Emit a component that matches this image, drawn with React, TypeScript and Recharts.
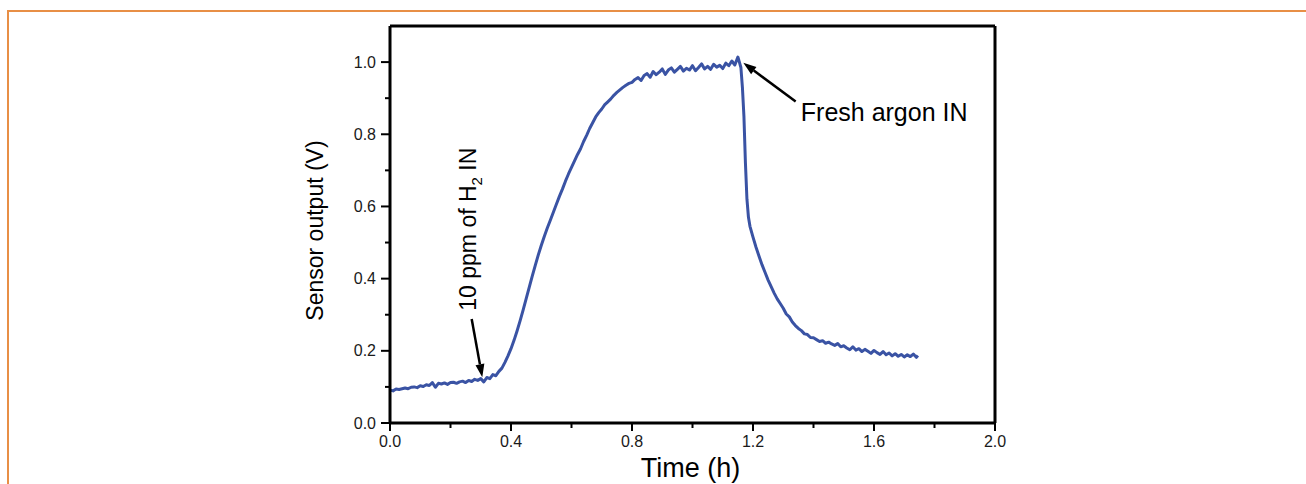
import React from 'react';
import { LineChart, Line, XAxis, YAxis, ReferenceLine, ReferenceDot } from 'recharts';

// time (h) and sensor output (V)
const timeH = [
  0.00, 0.01, 0.02, 0.03, 0.04, 0.05, 0.06, 0.07, 0.08, 0.09,
  0.10, 0.11, 0.12, 0.13, 0.14, 0.15, 0.16, 0.17, 0.18, 0.19,
  0.20, 0.21, 0.22, 0.23, 0.24, 0.25, 0.26, 0.27, 0.28, 0.29,
  0.30, 0.31, 0.32, 0.33, 0.34, 0.35, 0.36, 0.37, 0.38, 0.39,
  0.40, 0.41, 0.42, 0.43, 0.44, 0.45, 0.46, 0.47, 0.48, 0.49,
  0.50, 0.51, 0.52, 0.53, 0.54, 0.55, 0.56, 0.57, 0.58, 0.59,
  0.60, 0.61, 0.62, 0.63, 0.64, 0.65, 0.66, 0.67, 0.68, 0.69,
  0.70, 0.71, 0.72, 0.73, 0.74, 0.75, 0.76, 0.77, 0.78, 0.79,
  0.80, 0.81, 0.82, 0.83, 0.84, 0.85, 0.86, 0.87, 0.88, 0.89,
  0.90, 0.91, 0.92, 0.93, 0.94, 0.95, 0.96, 0.97, 0.98, 0.99,
  1.00, 1.01, 1.02, 1.03, 1.04, 1.05, 1.06, 1.07, 1.08, 1.09,
  1.10, 1.11, 1.12, 1.13, 1.14, 1.15, 1.155, 1.16, 1.165, 1.17,
  1.175, 1.18, 1.185, 1.19, 1.20, 1.21, 1.22, 1.23, 1.24, 1.25,
  1.26, 1.27, 1.28, 1.29, 1.30, 1.31, 1.32, 1.33, 1.34, 1.35,
  1.36, 1.37, 1.38, 1.39, 1.40, 1.41, 1.42, 1.43, 1.44, 1.45,
  1.46, 1.47, 1.48, 1.49, 1.50, 1.51, 1.52, 1.53, 1.54, 1.55,
  1.56, 1.57, 1.58, 1.59, 1.60, 1.61, 1.62, 1.63, 1.64, 1.65,
  1.66, 1.67, 1.68, 1.69, 1.70, 1.71, 1.72, 1.73, 1.74, 1.745,
];

const sensorV = [
  0.091, 0.089, 0.094, 0.093, 0.095, 0.097, 0.095, 0.099, 0.100, 0.098,
  0.103, 0.101, 0.106, 0.104, 0.112, 0.099, 0.110, 0.108, 0.111, 0.107,
  0.112, 0.113, 0.110, 0.114, 0.116, 0.112, 0.118, 0.115, 0.121, 0.118,
  0.123, 0.114, 0.126, 0.123, 0.134, 0.131, 0.143, 0.152, 0.168, 0.186,
  0.206, 0.229, 0.255, 0.283, 0.313, 0.344, 0.375, 0.406, 0.436, 0.465,
  0.492, 0.517, 0.540, 0.562, 0.584, 0.606, 0.628, 0.648, 0.670, 0.690,
  0.708, 0.726, 0.744, 0.760, 0.780, 0.797, 0.816, 0.832, 0.848, 0.860,
  0.870, 0.882, 0.890, 0.898, 0.908, 0.916, 0.923, 0.930, 0.936, 0.941,
  0.944, 0.952, 0.957, 0.949, 0.963, 0.968, 0.958, 0.974, 0.965, 0.972,
  0.981, 0.966, 0.978, 0.984, 0.972, 0.980, 0.988, 0.975, 0.983, 0.978,
  0.990, 0.976, 0.985, 0.995, 0.981, 0.988, 0.980, 0.994, 0.986, 0.991,
  0.982, 0.997, 0.990, 1.003, 0.992, 1.014, 1.000, 0.985, 0.930, 0.850,
  0.720, 0.620, 0.570, 0.545, 0.515, 0.487, 0.462, 0.438, 0.417, 0.396,
  0.378, 0.360, 0.344, 0.331, 0.318, 0.302, 0.294, 0.280, 0.270, 0.262,
  0.256, 0.247, 0.245, 0.237, 0.236, 0.231, 0.226, 0.228, 0.221, 0.224,
  0.219, 0.215, 0.220, 0.211, 0.214, 0.208, 0.203, 0.211, 0.202, 0.206,
  0.198, 0.204, 0.199, 0.193, 0.201, 0.195, 0.190, 0.198, 0.189, 0.194,
  0.186, 0.192, 0.185, 0.190, 0.183, 0.189, 0.184, 0.191, 0.182, 0.187,
];

const xTicks = [0, 0.2, 0.4, 0.6, 0.8, 1.0, 1.2, 1.4, 1.6, 1.8, 2.0];
const yTicks = [0, 0.1, 0.2, 0.3, 0.4, 0.5, 0.6, 0.7, 0.8, 0.9, 1.0];

// annotation anchors in data units
const h2Arrow = [{ x: 0.27, y: 0.288 }, { x: 0.305, y: 0.127 }];
const argonArrow = [{ x: 1.341, y: 0.891 }, { x: 1.168, y: 0.998 }];

const data = timeH.map((t, i) => ({ t, v: sensorV[i] }));

const FONT = '"Liberation Sans", Arial, sans-serif';
const LINE_COLOR = '#3a53a4';

const XTick = ({ x, y, payload }: any) => {
  const major = Math.round(payload.value * 10) % 4 === 0;
  return (
    <g>
      <line x1={x} x2={x} y1={y} y2={y + (major ? 8 : 5)} stroke="#000" strokeWidth={2} />
      {major && (
        <text x={x} y={y + 24} textAnchor="middle" fontSize={16} fontFamily={FONT} fill="#1a1a1a">
          {payload.value.toFixed(1)}
        </text>
      )}
    </g>
  );
};

const YTick = ({ x, y, payload }: any) => {
  const major = Math.round(payload.value * 10) % 2 === 0;
  return (
    <g>
      <line x1={x} x2={x - (major ? 9 : 5)} y1={y} y2={y} stroke="#000" strokeWidth={2} />
      {major && (
        <text x={x - 14} y={y + 5.5} textAnchor="end" fontSize={16} fontFamily={FONT} fill="#1a1a1a">
          {payload.value.toFixed(1)}
        </text>
      )}
    </g>
  );
};

const Arrow = ({ x1, y1, x2, y2 }: any) => {
  const ang = Math.atan2(y2 - y1, x2 - x1);
  const len = 13;
  const w = 4.5;
  const bx = x2 - len * Math.cos(ang);
  const by = y2 - len * Math.sin(ang);
  const px = -Math.sin(ang) * w;
  const py = Math.cos(ang) * w;
  return (
    <g>
      <line x1={x1} y1={y1} x2={bx} y2={by} stroke="#000" strokeWidth={2.5} />
      <polygon points={`${x2},${y2} ${bx + px},${by + py} ${bx - px},${by - py}`} fill="#000" />
    </g>
  );
};

const H2Label = ({ cx, cy }: any) => (
  <text
    x={cx}
    y={cy}
    transform={`rotate(-90, ${cx}, ${cy})`}
    textAnchor="middle"
    fontSize={23}
    fontFamily={FONT}
    fill="#000"
  >
    10 ppm of H<tspan dy={6} fontSize={15}>2</tspan>
    <tspan dy={-6}> IN</tspan>
  </text>
);

const ArgonLabel = ({ cx, cy }: any) => (
  <text x={cx} y={cy} fontSize={25} fontFamily={FONT} fill="#000">
    Fresh argon IN
  </text>
);

const XTitle = ({ viewBox }: any) => (
  <text
    x={viewBox.x + viewBox.width / 2 - 2}
    y={viewBox.y + 54}
    textAnchor="middle"
    fontSize={27}
    fontFamily={FONT}
    fill="#000"
  >
    Time (h)
  </text>
);

const YTitle = ({ viewBox }: any) => {
  const cx = viewBox.x + viewBox.width - 67;
  const cy = viewBox.y + viewBox.height / 2 + 6;
  return (
    <text
      x={cx}
      y={cy}
      transform={`rotate(-90, ${cx}, ${cy})`}
      textAnchor="middle"
      fontSize={23}
      fontFamily={FONT}
      fill="#000"
    >
      Sensor output (V)
    </text>
  );
};

const App: React.FC = () => {
  return (
    <div style={{ position: 'absolute', left: 0, top: 0, width: 1306, height: 484, background: '#fff' }}>
      <div
        style={{
          position: 'absolute',
          left: 7,
          top: 10,
          width: 1306,
          height: 484,
          borderTop: '2px solid #e88f46',
          borderLeft: '2px solid #e88f46',
        }}
      />
      <div style={{ position: 'absolute', left: 0, top: 0 }}>
        <LineChart width={1306} height={484} data={data} margin={{ top: 26, right: 311, bottom: 31, left: 330 }}>
          <XAxis
            dataKey="t"
            type="number"
            domain={[0, 2]}
            ticks={xTicks}
            interval={0}
            height={30}
            tickSize={0}
            tickMargin={0}
            tickLine={false}
            axisLine={{ stroke: '#000', strokeWidth: 3 }}
            tick={<XTick />}
            label={<XTitle />}
          />
          <YAxis
            type="number"
            domain={[0, 1.1]}
            ticks={yTicks}
            interval={0}
            width={60}
            tickSize={0}
            tickMargin={0}
            tickLine={false}
            allowDataOverflow
            axisLine={{ stroke: '#000', strokeWidth: 3 }}
            tick={<YTick />}
            label={<YTitle />}
          />
          <ReferenceLine y={1.1} stroke="#000" strokeWidth={3} />
          <ReferenceLine x={2} stroke="#000" strokeWidth={3} />
          <Line
            dataKey="v"
            type="linear"
            stroke={LINE_COLOR}
            strokeWidth={3}
            strokeLinejoin="round"
            dot={false}
            isAnimationActive={false}
          />
          <ReferenceLine segment={h2Arrow} shape={<Arrow />} />
          <ReferenceLine segment={argonArrow} shape={<Arrow />} />
          <ReferenceDot x={0.283} y={0.537} r={0} shape={<H2Label />} />
          <ReferenceDot x={1.358} y={0.838} r={0} shape={<ArgonLabel />} />
        </LineChart>
      </div>
    </div>
  );
};

export default App;
